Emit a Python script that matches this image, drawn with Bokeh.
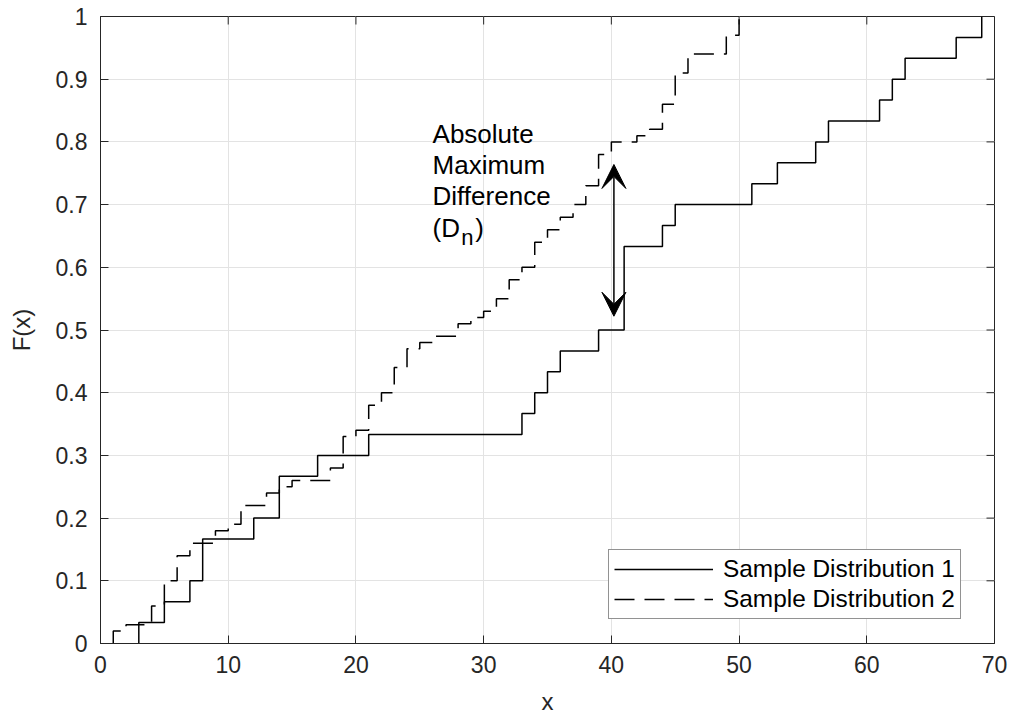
import math

from bokeh.plotting import figure
from bokeh.models import (Range1d, FixedTicker, Arrow, VeeHead,
                          Label, Legend, LegendItem)
from bokeh.embed import file_html
from bokeh.resources import INLINE

# Sample distribution 1: jump locations and cumulative counts (n = 30)
dist1_x = [3, 5, 7, 8, 12, 14, 17, 21, 33, 34, 35, 36, 39, 41, 44, 45,
           51, 53, 56, 57, 61, 62, 63, 67, 69]
dist1_count = [1, 2, 3, 5, 6, 8, 9, 10, 11, 12, 13, 14, 15, 19, 20, 21,
               22, 23, 24, 25, 26, 27, 28, 29, 30]
dist1_n = 30

# Sample distribution 2: jump locations and empirical CDF levels
dist2_x = [1, 2, 4, 5, 6, 7, 9, 10, 11, 13, 14, 15, 18, 19, 20, 21, 22, 23,
           24, 25, 26, 28, 29, 30, 31, 32, 33, 34, 35, 36, 37, 38, 39, 40,
           42, 43, 44, 45, 46, 49, 50]
dist2_F = [0.02, 0.03, 0.06, 0.10, 0.14, 0.16, 0.18, 0.19, 0.22, 0.24, 0.25,
           0.26, 0.28, 0.33, 0.34, 0.38, 0.40, 0.44, 0.47, 0.48, 0.49, 0.51,
           0.52, 0.53, 0.55, 0.58, 0.60, 0.64, 0.66, 0.68, 0.70, 0.73, 0.78,
           0.80, 0.81, 0.82, 0.86, 0.91, 0.94, 0.97, 1.00]

# Maximum vertical gap marker (x, lower F, upper F)
dn_x = 40.2
dn_low = 0.522
dn_high = 0.764

x_ticks = [0, 10, 20, 30, 40, 50, 60, 70]
y_ticks = [0, 0.1, 0.2, 0.3, 0.4, 0.5, 0.6, 0.7, 0.8, 0.9, 1]
x_min, x_max = 0, 70
y_min, y_max = 0, 1

FONT = "Liberation Sans"
INK = "#262626"

dist1_F = [c / dist1_n for c in dist1_count]

p = figure(frame_width=894, frame_height=627,
           min_border_left=100, min_border_right=18,
           min_border_top=16, min_border_bottom=78,
           x_range=Range1d(x_min, x_max), y_range=Range1d(y_min, y_max),
           output_backend="svg", toolbar_location=None,
           background_fill_color="white", border_fill_color="white")

p.outline_line_color = INK
p.outline_line_width = 1

for ax in (p.xaxis[0], p.yaxis[0]):
    ax.major_tick_in = 8
    ax.major_tick_out = 0
    ax.minor_tick_in = 0
    ax.minor_tick_out = 0
    ax.axis_line_color = INK
    ax.major_tick_line_color = INK
    ax.major_label_text_color = INK
    ax.major_label_text_font = FONT
    ax.major_label_text_font_size = "23px"
    ax.axis_label_text_font = FONT
    ax.axis_label_text_font_size = "24px"
    ax.axis_label_text_font_style = "normal"
    ax.axis_label_text_color = INK

p.xaxis.ticker = FixedTicker(ticks=x_ticks)
p.yaxis.ticker = FixedTicker(ticks=y_ticks)
p.yaxis.major_label_overrides = {0: "0", 1: "1"}
p.xaxis.axis_label = "x"
p.yaxis.axis_label = "F(x)"
p.xaxis.major_label_standoff = 12
p.yaxis.major_label_standoff = 13
p.xaxis.axis_label_standoff = 12
p.yaxis.axis_label_standoff = 18

p.xgrid.ticker = FixedTicker(ticks=x_ticks)
p.ygrid.ticker = FixedTicker(ticks=y_ticks)
p.grid.grid_line_color = "#e3e3e3"
p.grid.grid_line_width = 1

# Inward tick marks along the top and right edges of the box
p.ray(x=x_ticks, y=[y_max] * len(x_ticks), length=8, length_units="screen",
      angle=-math.pi / 2, line_color=INK, line_width=1)
p.ray(x=[x_max] * len(y_ticks), y=y_ticks, length=8, length_units="screen",
      angle=math.pi, line_color=INK, line_width=1)

# Empirical CDFs as stair-step lines
r1 = p.step([dist1_x[0]] + dist1_x, [0] + dist1_F, mode="after",
            line_color="black", line_width=1.5)
r2 = p.step([dist2_x[0]] + dist2_x, [0] + dist2_F, mode="after",
            line_color="black", line_width=1.5, line_dash="20 10")

# Double-headed arrow marking D_n
p.add_layout(Arrow(x_start=dn_x, y_start=dn_low, x_end=dn_x, y_end=dn_high,
                   line_color="black", line_width=1.5,
                   start=VeeHead(size=24, fill_color="black", line_color="black"),
                   end=VeeHead(size=24, fill_color="black", line_color="black")))

# Annotation text
ann_font = "26px"
for txt, yy in (("Absolute", 0.812), ("Maximum", 0.763), ("Difference", 0.713),
                ("(D", 0.663)):
    p.add_layout(Label(x=26.0, y=yy, text=txt, text_font=FONT,
                       text_font_size=ann_font, text_color="black",
                       text_baseline="alphabetic"))
p.add_layout(Label(x=28.25, y=0.648, text="n", text_font=FONT,
                   text_font_size="22px", text_color="black",
                   text_baseline="alphabetic"))
p.add_layout(Label(x=29.35, y=0.663, text=")", text_font=FONT,
                   text_font_size=ann_font, text_color="black",
                   text_baseline="alphabetic"))

legend = Legend(items=[LegendItem(label="Sample Distribution 1", renderers=[r1]),
                       LegendItem(label="Sample Distribution 2", renderers=[r2])],
                location=(508, 24))
legend.border_line_color = INK
legend.border_line_width = 1
legend.background_fill_color = "white"
legend.background_fill_alpha = 1
legend.label_text_font = FONT
legend.label_text_font_size = "24.4px"
legend.label_text_color = "black"
legend.glyph_width = 99
legend.glyph_height = 20
legend.label_height = 20
legend.spacing = 2
legend.padding = 5
legend.margin = 0
legend.label_standoff = 10
p.add_layout(legend, "center")

open("out.html", "w").write(file_html(p, INLINE))
